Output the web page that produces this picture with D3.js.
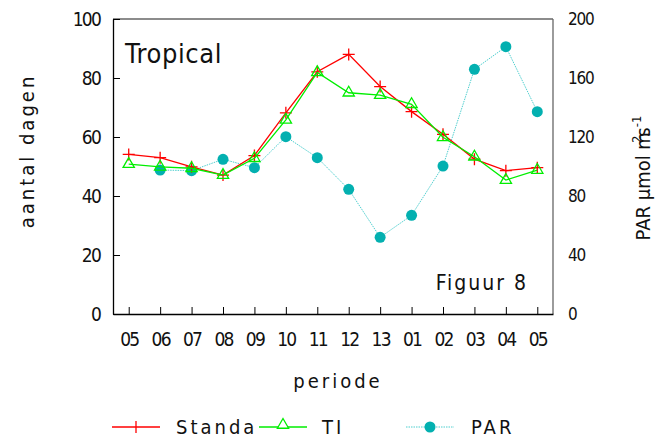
<!DOCTYPE html>
<html><head><meta charset="utf-8">
<script src="https://cdn.jsdelivr.net/npm/d3@7"></script>
<style>
body{margin:0;background:#fff;}
svg text{font-family:"Liberation Sans Narrow","DejaVu Sans Condensed","Liberation Sans",sans-serif;fill:#111;}
</style></head><body>
<svg id="c" width="655" height="438"></svg>
<script>
const periods = ["05","06","07","08","09","10","11","12","13","01","02","03","04","05"];
const standa = [54.1,53.0,49.9,47.1,53.7,68.2,82.1,88.0,77.1,68.6,60.9,52.5,48.6,49.6];
const ti = [50.8,49.9,49.4,47.1,52.8,65.8,81.9,75.0,74.2,71.1,59.9,53.3,45.4,48.8];
const par = [null,97.6,97.2,104.9,99.2,120.2,106.0,84.5,52.0,66.9,100.3,165.9,181.2,137.2];
const leftTicks = [0,20,40,60,80,100];
const rightTicks = [0,40,80,120,160,200];

const svg = d3.select("#c");
const L=113,R=553,T=19,B=314;
const x = d3.scaleLinear().domain([-0.5,13.5]).range([L,R]);
const y = d3.scaleLinear().domain([0,100]).range([B,T]);
const y2 = d3.scaleLinear().domain([0,200]).range([B,T]);

// frame
svg.append("line").attr("x1",L).attr("x2",R).attr("y1",T).attr("y2",T).attr("stroke","#666").attr("stroke-width",1.3);
svg.append("line").attr("x1",R).attr("x2",R).attr("y1",T).attr("y2",B).attr("stroke","#666").attr("stroke-width",1.3);

// left axis
const la = svg.append("g").attr("transform",`translate(${L},0)`)
  .call(d3.axisLeft(y).tickValues(leftTicks).tickSizeInner(-7).tickSizeOuter(0).tickPadding(13));
la.select(".domain").attr("stroke","#000").attr("stroke-width",1.3);
la.selectAll("text").attr("font-size",19).attr("letter-spacing","-1.8px").attr("dy","0.35em");
la.selectAll(".tick line").attr("stroke","#000");

// right axis
const ra = svg.append("g").attr("transform",`translate(${R},0)`)
  .call(d3.axisRight(y2).tickValues(rightTicks).tickSize(0).tickPadding(15));
ra.select(".domain").remove();
ra.selectAll("text").attr("font-size",17).attr("letter-spacing","-1.2px").attr("dy","0.35em");

// bottom axis
const ba = svg.append("g").attr("transform",`translate(0,${B})`)
  .call(d3.axisBottom(x).tickValues(d3.range(periods.length)).tickFormat(i=>periods[i]).tickSizeInner(-7).tickSizeOuter(0).tickPadding(19));
ba.select(".domain").attr("stroke","#000").attr("stroke-width",1.3);
ba.selectAll(".tick line").attr("stroke","#000");
ba.selectAll("text").attr("font-size",19).attr("letter-spacing","-1.8px");

// PAR
const parPts = par.map((v,i)=>({i,v})).filter(d=>d.v!==null);
svg.append("path").datum(parPts)
  .attr("d",d3.line().x(d=>x(d.i)).y(d=>y2(d.v)))
  .attr("fill","none").attr("stroke","#4fcfcf").attr("stroke-width",1).attr("stroke-dasharray","1.5,1");
svg.selectAll(".parc").data(parPts).enter().append("circle")
  .attr("cx",d=>x(d.i)).attr("cy",d=>y2(d.v)).attr("r",5.5).attr("fill","#03b0b0");

// Standa
const line = d3.line().x((d,i)=>x(i)).y(d=>y(d));
svg.append("path").datum(standa).attr("d",line).attr("fill","none").attr("stroke","#ff0000").attr("stroke-width",1.3);
svg.selectAll(".pl").data(standa).enter().append("path")
  .attr("d",(d,i)=>`M${x(i)-6},${y(d)}h12M${x(i)},${y(d)-6}v12`)
  .attr("stroke","#ff0000").attr("stroke-width",1.3).attr("fill","none");

// TI
svg.append("path").datum(ti).attr("d",line).attr("fill","none").attr("stroke","#00ee00").attr("stroke-width",1.3);
svg.selectAll(".tri").data(ti).enter().append("path")
  .attr("d",d3.symbol().type(d3.symbolTriangle).size(55))
  .attr("transform",(d,i)=>`translate(${x(i)},${y(d)})`)
  .attr("fill","none").attr("stroke","#00ee00").attr("stroke-width",1.3);

// texts
svg.append("text").attr("x",125).attr("y",63).attr("font-size",27).attr("letter-spacing","0.6px").text("Tropical");
svg.append("text").attr("x",528).attr("y",290).attr("text-anchor","end").attr("font-size",21).attr("letter-spacing","2px").text("Figuur 8");
svg.append("text").attr("x",338).attr("y",388).attr("text-anchor","middle").attr("font-size",20).attr("letter-spacing","3px").text("periode");
svg.append("text").attr("transform","translate(34,151) rotate(-90)").attr("text-anchor","middle").attr("font-size",20).attr("letter-spacing","3px").text("aantal dagen");
const rt = svg.append("text").attr("transform","translate(650,178) rotate(-90)").attr("text-anchor","middle").attr("font-size",20);
rt.append("tspan").text("PAR µmol m");
rt.append("tspan").attr("dx",-11).attr("dy",-9).attr("font-size",13).text("2");
rt.append("tspan").attr("dy",9).attr("dx",-1).text("s");
rt.append("tspan").attr("dy",-9).attr("font-size",13).text("-1");

// legend
const legY = 427;
const leg = [
  {name:"Standa", x:112, tx:176, kind:"plus"},
  {name:"TI", x:259, tx:322, kind:"tri"},
  {name:"PAR", x:406, tx:471, kind:"circ"}
];
leg.forEach(l=>{
  const cx = l.x+24;
  if(l.kind==="plus"){
    svg.append("line").attr("x1",l.x).attr("x2",l.x+48).attr("y1",legY).attr("y2",legY).attr("stroke","#ff0000").attr("stroke-width",1.3);
    svg.append("path").attr("d",`M${cx},${legY-6}v12`).attr("stroke","#ff0000").attr("stroke-width",1.3);
  } else if(l.kind==="tri"){
    svg.append("line").attr("x1",l.x).attr("x2",l.x+48).attr("y1",legY).attr("y2",legY).attr("stroke","#00ee00").attr("stroke-width",1.3);
    svg.append("path").attr("d",d3.symbol().type(d3.symbolTriangle).size(55)).attr("transform",`translate(${cx},${legY-2})`).attr("fill","#fff").attr("stroke","#00ee00").attr("stroke-width",1.3);
  } else {
    svg.append("line").attr("x1",l.x).attr("x2",l.x+48).attr("y1",legY).attr("y2",legY).attr("stroke","#4fcfcf").attr("stroke-width",1).attr("stroke-dasharray","1.5,1");
    svg.append("circle").attr("cx",cx).attr("cy",legY).attr("r",5.5).attr("fill","#03b0b0");
  }
  svg.append("text").attr("x",l.tx).attr("y",legY+7).attr("font-size",20).attr("letter-spacing","3px").text(l.name);
});
</script>
</body></html>
